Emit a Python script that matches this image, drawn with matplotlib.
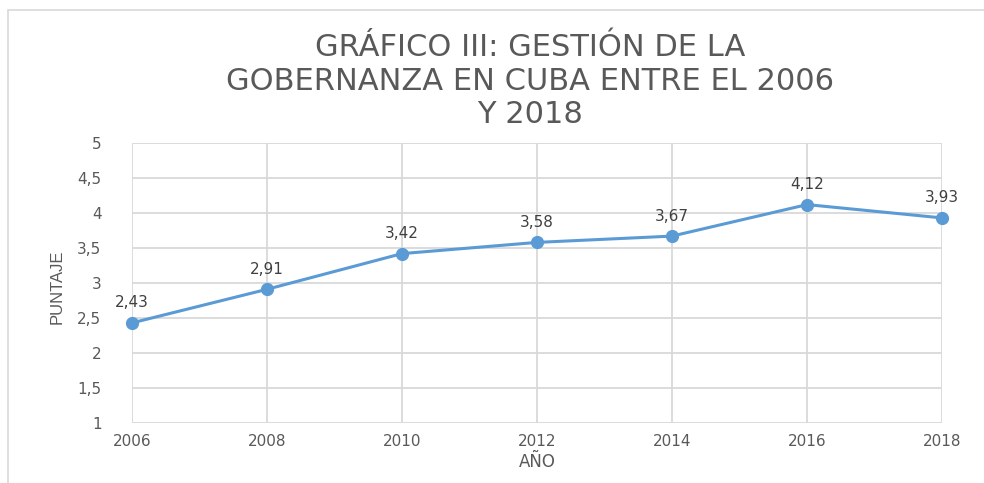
import matplotlib
matplotlib.use("Agg")
import matplotlib.pyplot as plt
from matplotlib.patches import Rectangle
from matplotlib.ticker import FuncFormatter

years = [2006, 2008, 2010, 2012, 2014, 2016, 2018]
scores = [2.43, 2.91, 3.42, 3.58, 3.67, 4.12, 3.93]
y_ticks = [1, 1.5, 2, 2.5, 3, 3.5, 4, 4.5, 5]
title = "GRÁFICO III: GESTIÓN DE LA\nGOBERNANZA EN CUBA ENTRE EL 2006\nY 2018"
xlabel = "AÑO"
ylabel = "PUNTAJE"

def fmt(v):
    s = f"{v:.2f}".rstrip("0").rstrip(".")
    return s.replace(".", ",")

fig = plt.figure(figsize=(9.84, 4.83), dpi=100)
fig.patch.set_facecolor("white")
fig.patches.append(Rectangle((8/984, -0.1), 1.2, (1 - 10/483) + 0.1, transform=fig.transFigure,
                             fill=False, edgecolor="#d9d9d9", linewidth=1.2))

ax = fig.add_axes([132/984, 1 - 423/483, 810/984, 280/483])
ax.plot(years, scores, color="#5b9bd5", linewidth=2.2, marker="o", markersize=8.5,
        markerfacecolor="#5b9bd5", markeredgecolor="#5b9bd5", zorder=3, clip_on=False)
for x, y in zip(years, scores):
    ax.annotate(fmt(y), (x, y), xytext=(0, 9), textcoords="offset points",
                ha="center", va="bottom", fontsize=11, color="#404040")

ax.set_xlim(2006, 2018)
ax.set_ylim(1, 5)
ax.set_xticks(years)
ax.set_yticks(y_ticks)
ax.yaxis.set_major_formatter(FuncFormatter(lambda v, p: fmt(v)))
ax.grid(True, color="#d9d9d9", linewidth=1.3)
ax.set_axisbelow(True)
for s in ax.spines.values():
    s.set_visible(False)
ax.tick_params(length=0, labelsize=11, colors="#595959", pad=8)
ax.tick_params(axis="y", pad=22)

fig.text(530/984, 1 - 81/483, title, ha="center", va="center", fontsize=22,
         color="#595959", linespacing=1.19)
fig.text(537/984, 1 - 462/483, xlabel, ha="center", va="center", fontsize=12, color="#595959")
fig.text(57/984, 1 - 287/483, ylabel, ha="center", va="center", rotation=90,
         fontsize=12, color="#595959", family=["Liberation Sans Narrow", "Liberation Sans"])

fig.savefig("out.png", dpi=100, facecolor="white")
